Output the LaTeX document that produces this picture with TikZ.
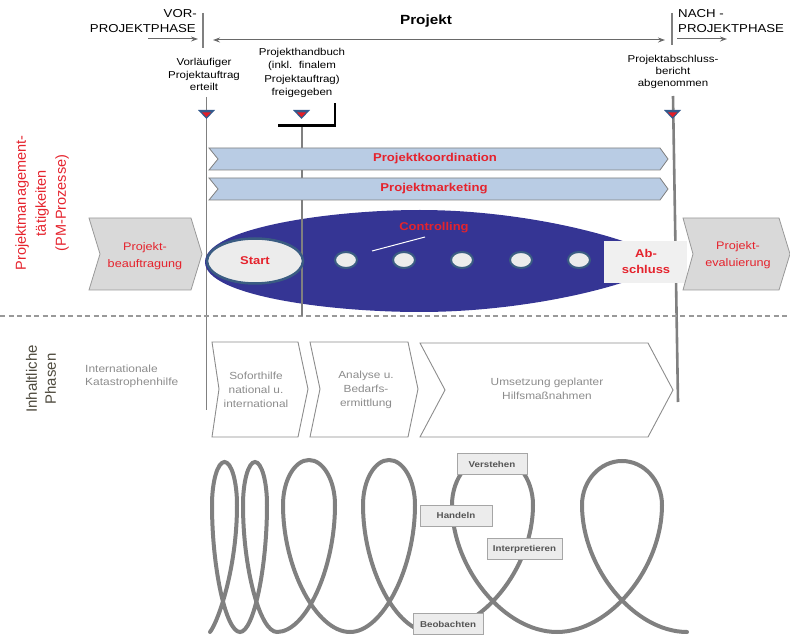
\documentclass[tikz,border=0pt]{standalone}
\usepackage{fontspec}
\setmainfont{Liberation Sans}[FakeStretch=1.15]
\newfontfamily\rotfont{Liberation Sans}
\usetikzlibrary{arrows.meta}
\definecolor{pmred}{RGB}{229,35,45}
\definecolor{linegray}{RGB}{128,128,128}
\definecolor{arrowgray}{RGB}{105,105,105}
\definecolor{bannerblue}{RGB}{185,204,228}
\definecolor{ovalblue}{RGB}{53,53,148}
\definecolor{ringblue}{RGB}{58,92,130}
\definecolor{softgray}{RGB}{236,236,236}
\definecolor{chevgray}{RGB}{217,217,217}
\definecolor{phasegray}{RGB}{140,140,140}
\definecolor{headgray}{RGB}{78,74,62}
\definecolor{markblue}{RGB}{52,90,140}
\definecolor{markred}{RGB}{226,30,40}
\definecolor{coilgray}{RGB}{128,128,128}
\definecolor{tagtext}{RGB}{85,85,85}
\begin{document}
\begin{tikzpicture}[x=1pt,y=1pt,
  hdr/.style={font=\fontsize{11.5}{14}\selectfont, inner sep=0},
  note/.style={font=\fontsize{10}{12.7}\selectfont, align=center, inner sep=0},
  arr/.style={draw=arrowgray, line width=1, -{Stealth[length=7pt,width=5pt]}},
  vline/.style={draw=linegray, line width=1.5},
  banner/.style={fill=bannerblue, draw=linegray, line width=0.8},
  bannertext/.style={font=\bfseries\fontsize{11.4}{14}\selectfont, text=pmred, inner sep=0},
  redbold/.style={font=\bfseries\fontsize{11.3}{16}\selectfont, text=pmred, align=center, inner sep=0},
  chevron/.style={fill=chevgray, draw=linegray!80, line width=0.8},
  chevtext/.style={font=\fontsize{11}{17}\selectfont, text=pmred, align=center, inner sep=0},
  phase/.style={fill=white, draw=phasegray, line width=0.9},
  phasetext/.style={font=\fontsize{10.3}{14}\selectfont, text=phasegray, align=center, inner sep=0},
  dot/.style={fill=softgray, draw=ringblue, line width=2},
  coil/.style={draw=coilgray, line width=4},
  tag/.style={fill=softgray, draw=linegray!70, line width=0.8, minimum height=21, inner xsep=5,
    font=\bfseries\fontsize{8.5}{10}\selectfont, text=tagtext}
]
\useasboundingbox (0,0) rectangle (790,-636);

% ---------- phase header ----------
\node[hdr, anchor=east] (vor) at (197,-14) {VOR-};
\node[hdr, anchor=east] (vorph) at (196,-29) {PROJEKTPHASE};
\node[hdr, anchor=west] (nach) at (678,-14) {NACH -};
\node[hdr, anchor=west] (nachph) at (678,-29) {PROJEKTPHASE};
\node[font=\bfseries\fontsize{13.3}{16}\selectfont, inner sep=0] (projekt) at (426,-21) {Projekt};

\coordinate (tickLa) at (203,-13);
\coordinate (tickLb) at (203,-48);
\coordinate (tickRa) at (672,-13);
\coordinate (tickRb) at (672,-45);
\draw[vline] (tickLa) -- (tickLb);
\draw[vline, line width=2.2] (tickRa) -- (tickRb);

\coordinate (preA) at (148,-39);
\coordinate (preB) at (198,-39);
\coordinate (prjA) at (213,-40);
\coordinate (prjB) at (665,-40);
\coordinate (postA) at (677,-39);
\coordinate (postB) at (727,-39);
\draw[arr] (preA) -- (preB);
\draw[arr, {Stealth[length=7pt,width=5pt]}-{Stealth[length=7pt,width=5pt]}] (prjA) -- (prjB);
\draw[arr] (postA) -- (postB);

% ---------- milestones ----------
\node[note] (ms1) at (204,-74.5) {Vorläufiger\\Projektauftrag\\erteilt};
\node[note, font=\fontsize{10}{13.3}\selectfont] (ms2) at (302,-73) {Projekthandbuch\\(inkl.\ \ finalem\\Projektauftrag)\\freigegeben};
\node[note, font=\fontsize{10}{12}\selectfont] (ms3) at (673,-72) {Projektabschluss-\\bericht\\abgenommen};

% ---------- timeline lines ----------
\coordinate (lineLa) at (206.5,-97);
\coordinate (lineLb) at (206.5,-410);
\coordinate (lineRa) at (673,-96);
\coordinate (lineRb) at (678,-402);
\coordinate (lineMa) at (302,-125);
\coordinate (lineMb) at (302,-316);
\draw[vline] (lineLa) -- (lineLb);
\draw[vline, line width=2.6] (lineRa) -- (lineRb);

% separator between the two areas
\coordinate (sepA) at (0,-316);
\coordinate (sepB) at (790,-316);
\draw[draw=linegray!80, line width=1.2, dash pattern=on 5pt off 3.5pt] (sepA) -- (sepB);

% ---------- project oval ----------
\fill[ovalblue] (205,-262) .. controls (205,-228) and (330,-210) .. (420,-210)
  .. controls (530,-210) and (640,-240) .. (668,-262)
  .. controls (640,-284) and (530,-312) .. (420,-312)
  .. controls (330,-312) and (205,-296) .. (205,-262) -- cycle;
\draw[vline] (lineMa) -- (lineMb);

% bracket under the project handbook
\coordinate (brA) at (278,-125.5);
\coordinate (brB) at (335,-125.5);
\coordinate (brC) at (335,-103);
\draw[black, line width=2.6] (brA) -- (brB) -- (brC);

% banners
\draw[banner] (209,-148) -- (660,-148) -- (668,-159) -- (660,-170) -- (209,-170) -- (218,-159) -- cycle;
\draw[banner] (209,-178) -- (660,-178) -- (668,-189) -- (660,-200) -- (209,-200) -- (218,-189) -- cycle;
\node[bannertext] (koord) at (435,-159) {Projektkoordination};
\node[bannertext] (mkt) at (434,-189) {Projektmarketing};

% start, intermediate steps, controlling
\draw[fill=softgray, draw=ringblue, line width=2.5] (255,-261) ellipse [x radius=48, y radius=22.5];
\node[redbold] (start) at (255,-261) {Start};
\foreach \cx [count=\i] in {346,404,462,521,579}
  \draw[dot] (\cx,-260) ellipse [x radius=11, y radius=8];
\node[redbold] (ctrl) at (434,-228) {Controlling};
\coordinate (ctrlA) at (372,-251);
\coordinate (ctrlB) at (425,-237);
\draw[white, line width=1] (ctrlA) -- (ctrlB);

% closing box
\fill[softgray!80!white] (604,-241) rectangle (687,-283);
\node[redbold] (close) at (646,-261) {Ab-\\schluss};

% outer process chevrons
\draw[chevron] (89,-218) -- (191,-218) -- (202,-254) -- (191,-290) -- (89,-290) -- (100,-254) -- cycle;
\node[chevtext] (auftrag) at (145,-256) {Projekt-\\beauftragung};
\draw[chevron] (683,-218) -- (779,-218) -- (790,-254) -- (779,-290) -- (683,-290) -- (693,-254) -- cycle;
\node[chevtext] (eval) at (738,-255) {Projekt-\\evaluierung};

% milestone markers
\foreach \mx in {206.5,301.5,672.5}{
  \fill[markblue] (\mx-8.5,-110) -- (\mx+8.5,-110) -- (\mx,-119) -- cycle;
  \fill[markred] (\mx-4.5,-112.5) -- (\mx+4.5,-112.5) -- (\mx,-117) -- cycle;
}

% ---------- side headings ----------
\node[rotate=90, font=\rotfont\fontsize{14.5}{20}\selectfont, text=pmred, align=center, inner sep=0] (pmhead) at (42,-203)
  {Projektmanagement-\\tätigkeiten\\(PM-Prozesse)};
\node[rotate=90, font=\rotfont\fontsize{15}{19}\selectfont, text=headgray, align=center, inner sep=0] (phhead) at (41,-379)
  {Inhaltliche\\Phasen};

% ---------- content phases ----------
\node[phasetext, align=left, anchor=west, font=\fontsize{10.4}{13.3}\selectfont] (kat) at (85,-376.5)
  {Internationale\\Katastrophenhilfe};
\draw[phase] (212,-342) -- (298,-342) -- (308,-389) -- (298,-437) -- (212,-437) -- (219,-389) -- cycle;
\node[phasetext] (sofort) at (256,-390) {Soforthilfe\\national u.\\international};
\draw[phase] (310,-342) -- (408,-342) -- (418,-389) -- (408,-437) -- (310,-437) -- (320,-389) -- cycle;
\node[phasetext] (analyse) at (366,-390) {Analyse u.\\Bedarfs-\\ermittlung};
\draw[phase] (420,-343) -- (648,-343) -- (673,-390) -- (648,-437) -- (420,-437) -- (445,-390) -- cycle;
\node[phasetext] (umsetz) at (547,-389) {Umsetzung geplanter\\Hilfsmaßnahmen};

% ---------- learning coil ----------
\draw[coil, line cap=round] (210,-632) .. controls (218,-622) and (237,-568.5) .. (237,-505)
  .. controls (237,-481.4) and (231.4,-462) .. (224.5,-462)
  .. controls (217.6,-462) and (212,-481.4) .. (212,-505)
  .. controls (212,-568.5) and (226,-632) .. (240,-632)
  .. controls (253.5,-632) and (267,-568.5) .. (267,-505)
  .. controls (267,-481.4) and (261.6,-462) .. (255,-462)
  .. controls (248.4,-462) and (243,-481.4) .. (243,-505)
  .. controls (243,-568.5) and (260,-632) .. (277,-632)
  .. controls (306,-632) and (335,-568.5) .. (335,-505)
  .. controls (335,-480.25) and (323.3,-460) .. (309,-460)
  .. controls (294.7,-460) and (283,-480.25) .. (283,-505)
  .. controls (283,-568.5) and (316.5,-632) .. (350,-632)
  .. controls (382.5,-632) and (415,-568.5) .. (415,-505)
  .. controls (415,-480.25) and (403.3,-460) .. (389,-460)
  .. controls (374.7,-460) and (363,-480.25) .. (363,-505)
  .. controls (363,-568.5) and (396.5,-632) .. (430,-632)
  .. controls (481.5,-632) and (533,-568.5) .. (533,-505)
  .. controls (533,-477.5) and (514.8,-455) .. (492.5,-455)
  .. controls (470.2,-455) and (452,-477.5) .. (452,-505)
  .. controls (452,-568.5) and (504.5,-632) .. (557,-632)
  .. controls (609.5,-632) and (662,-568.5) .. (662,-505)
  .. controls (662,-480.8) and (644,-461) .. (622,-461)
  .. controls (600,-461) and (582,-480.8) .. (582,-505)
  .. controls (582,-568.5) and (634.5,-632) .. (687,-632);

\node[tag, minimum width=70] (verstehen) at (492,-464) {Verstehen};
\node[tag, minimum width=72] (handeln) at (456,-515.5) {Handeln};
\node[tag, minimum width=75] (interp) at (524.5,-549) {Interpretieren};
\node[tag, minimum width=70] (beob) at (448,-624) {Beobachten};
\end{tikzpicture}
\end{document}
